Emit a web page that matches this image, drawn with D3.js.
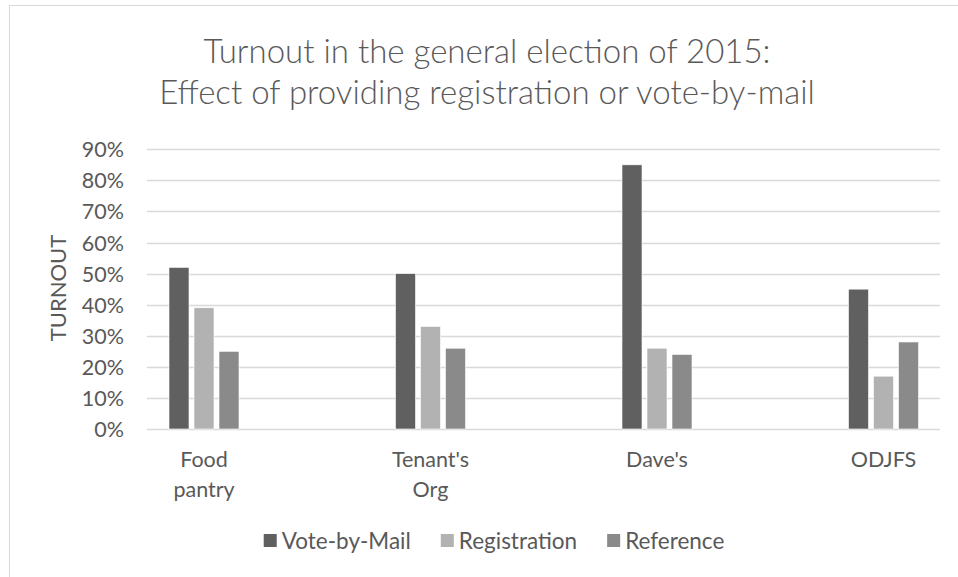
<!DOCTYPE html>
<html>
<head>
<meta charset="utf-8">
<script src="https://cdn.jsdelivr.net/npm/d3@7"></script>
<style>
  body { margin: 0; background: #fff; }
  svg text { font-family: Lato, "Open Sans", sans-serif; fill: #595959; }
</style>
</head>
<body>
<svg width="958" height="577"></svg>
<script>
const categories = ["Food pantry", "Tenant's Org", "Dave's", "ODJFS"];
const seriesNames = ["Vote-by-Mail", "Registration", "Reference"];
const voteByMail = [0.52, 0.50, 0.85, 0.45];
const registration = [0.39, 0.33, 0.26, 0.17];
const reference = [0.25, 0.26, 0.24, 0.28];
const yTicks = [0, 0.1, 0.2, 0.3, 0.4, 0.5, 0.6, 0.7, 0.8, 0.9];
const titleLines = ["Turnout in the general election of 2015:", "Effect of providing registration or vote-by-mail"];

const colors = { "Vote-by-Mail": "#606060", "Registration": "#b2b2b2", "Reference": "#8a8a8a" };
const values = { "Vote-by-Mail": voteByMail, "Registration": registration, "Reference": reference };

const svg = d3.select("svg");

// chart frame
svg.append("rect")
  .attr("x", 9.5).attr("y", 5.5)
  .attr("width", 1000).attr("height", 1000)
  .attr("fill", "none").attr("stroke", "#d9d9d9");

const plotLeft = 147, plotRight = 940;

const y = d3.scaleLinear().domain([0, 0.9]).range([429, 149.3]);

const x0 = d3.scaleBand().domain(categories).range([90.75, 996.75]);
const x1 = d3.scaleBand().domain(seriesNames).range([-35, 35]).paddingInner(0.2);

// gridlines
svg.append("g")
  .selectAll("line")
  .data(yTicks)
  .join("line")
  .attr("x1", plotLeft).attr("x2", plotRight)
  .attr("y1", d => Math.round(y(d)) + 0.5)
  .attr("y2", d => Math.round(y(d)) + 0.5)
  .attr("stroke", "#d9d9d9")
  .attr("stroke-width", 1.3);

// y axis labels
const yAxis = d3.axisLeft(y).tickValues(yTicks).tickFormat(d3.format(".0%")).tickSize(0).tickPadding(0);
svg.append("g")
  .attr("transform", "translate(124,0)")
  .call(yAxis)
  .call(g => g.select(".domain").remove())
  .selectAll("text")
  .attr("font-size", 21.5)
  .attr("font-family", "Lato")
  .attr("fill", "#595959")
  .attr("dy", "0.35em");

// bars
const groups = svg.append("g")
  .selectAll("g")
  .data(categories)
  .join("g")
  .attr("transform", d => `translate(${x0(d) + x0.bandwidth() / 2},0)`);

groups.selectAll("rect")
  .data((c, i) => seriesNames.map(s => ({ s, v: values[s][i] })))
  .join("rect")
  .attr("x", d => x1(d.s))
  .attr("width", x1.bandwidth())
  .attr("y", d => y(d.v))
  .attr("height", d => y(0) - y(d.v))
  .attr("fill", d => colors[d.s])
  .attr("stroke", "#fff")
  .attr("stroke-width", 0.6);

// category labels
svg.append("g")
  .selectAll("text")
  .data(categories)
  .join("text")
  .attr("x", d => x0(d) + x0.bandwidth() / 2)
  .attr("y", 467)
  .attr("text-anchor", "middle")
  .attr("font-size", 21.5)
  .each(function (d) {
    const t = d3.select(this);
    d.split(" ").forEach((w, i) => {
      t.append("tspan")
        .attr("x", x0(d) + x0.bandwidth() / 2)
        .attr("dy", i === 0 ? 0 : 30)
        .text(w);
    });
  });

// y title
svg.append("text")
  .attr("transform", "translate(66,288) rotate(-90)")
  .attr("text-anchor", "middle")
  .attr("font-size", 22)
  .text("TURNOUT");

// chart title
svg.append("g")
  .selectAll("text")
  .data(titleLines)
  .join("text")
  .attr("x", 487)
  .attr("y", (d, i) => 63 + i * 41)
  .attr("text-anchor", "middle")
  .attr("font-size", 33)
  .attr("font-weight", 300)
  .text(d => d);

// legend
const legend = svg.append("g");
let lx = 0;
seriesNames.forEach(s => {
  const item = legend.append("g").attr("transform", `translate(${lx},0)`);
  item.append("rect")
    .attr("x", 0).attr("y", -7)
    .attr("width", 13).attr("height", 13)
    .attr("fill", colors[s]);
  const t = item.append("text")
    .attr("x", 18).attr("y", 0).attr("dy", "0.35em")
    .attr("font-size", 22.5)
    .text(s);
  lx += 18 + t.node().getComputedTextLength() + 30;
});
const legendWidth = lx - 30;
legend.attr("transform", `translate(${494 - legendWidth / 2},541)`);
</script>
</body>
</html>
